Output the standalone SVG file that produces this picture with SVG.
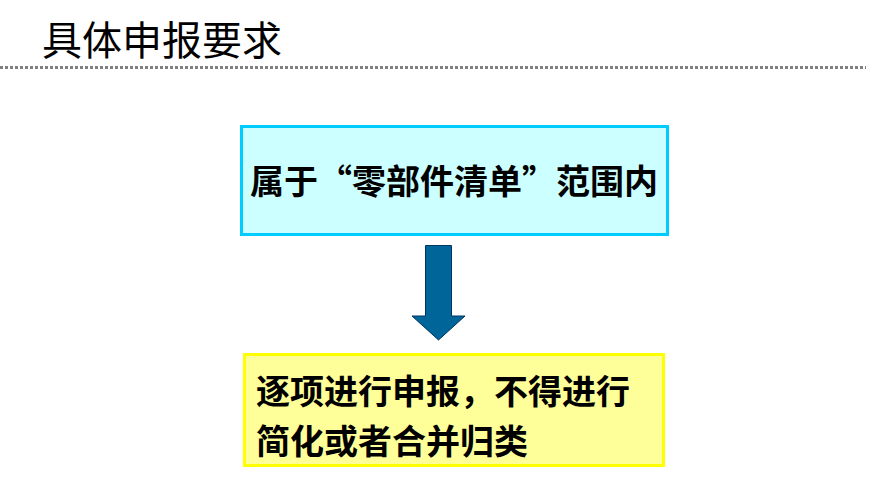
<svg xmlns="http://www.w3.org/2000/svg" width="895" height="503" viewBox="0 0 895 503">
<style>
.t{font-family:"Noto Sans CJK SC","Noto Sans CJK TC",sans-serif;fill:#000}
.b{font-weight:bold;font-size:34px}
</style>
<rect width="895" height="503" fill="#fff"/>
<g id="title">
<text class="t" x="42" y="55" font-size="40">具体申报要求</text>
<line x1="0" y1="67.5" x2="866" y2="67.5" stroke="#808080" stroke-width="3" stroke-dasharray="3,2"/>
</g>
<g id="node1">
<rect x="241.5" y="126.5" width="426" height="108" fill="#CCFFFF" stroke="#00CCFF" stroke-width="3"/>
<text class="t b" x="454" y="194" text-anchor="middle">属于“零部件清单”范围内</text>
</g>
<g id="connectors">
<path d="M425.5,245.5 H451.5 V316 H465 L438.5,340 L412,316 H425.5 Z" fill="#006699" stroke="#003366" stroke-width="1"/>
</g>
<g id="node2">
<rect x="244.5" y="354.5" width="419" height="111" fill="#FFFF99" stroke="#FFFF00" stroke-width="3"/>
<text class="t b" x="256" y="404">逐项进行申报，不得进行</text>
<text class="t b" x="256" y="454">简化或者合并归类</text>
</g>
</svg>
